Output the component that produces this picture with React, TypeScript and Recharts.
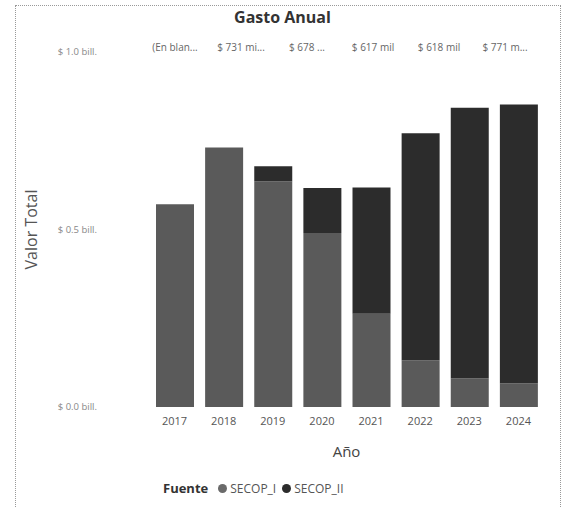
import React from 'react';
import { BarChart, Bar, XAxis, YAxis } from 'recharts';

const years = ['2017', '2018', '2019', '2020', '2021', '2022', '2023', '2024'];
const secopI = [0.571, 0.731, 0.636, 0.49, 0.263, 0.132, 0.081, 0.067];
const secopII = [0, 0, 0.042, 0.127, 0.355, 0.639, 0.762, 0.785];
const yTicks = [0, 0.5, 1.0];
// truncated data labels along the top, as they appear in the report
const topLabels = ['(En blan...', '$ 731 mi...', '$ 678 ...', '$ 617 mil', '$ 618 mil', '$ 771 m...'];

const data = years.map((y, i) => ({ year: y, SECOP_I: secopI[i], SECOP_II: secopII[i] }));

const FONT = '"Open Sans", "Noto Sans", sans-serif';

const fmtTick = (v: number) => `$ ${v.toFixed(1)} bill.`;

export default function App() {
  return (
    <div style={{ position: 'absolute', left: 0, top: 0, width: 565, height: 507, background: '#fff', fontFamily: FONT, overflow: 'hidden' }}>
      {/* dotted frame of the visual */}
      <div style={{ position: 'absolute', left: 15, top: 5, width: 544, height: 520, border: '1px dotted #999' }} />

      <div style={{ position: 'absolute', top: 6, left: 0, width: 565, textAlign: 'center', fontSize: 16, fontWeight: 700, color: '#333' }}>
        Gasto Anual
      </div>

      <div style={{ position: 'absolute', top: 40, left: 142, display: 'flex', fontSize: 10, color: '#666', whiteSpace: 'nowrap' }}>
        {topLabels.map((t, i) => (
          <span key={i} style={{ width: 66, display: 'inline-block', textAlign: 'center' }}>{t}</span>
        ))}
      </div>

      <div style={{ position: 'absolute', left: 0, top: 0 }}>
        <BarChart width={565} height={507} data={data} margin={{ top: 52, right: 22, bottom: 40, left: 0 }} barSize={38}>
          <XAxis
            dataKey="year"
            tickLine={false}
            axisLine={false}
            height={60}
            tickMargin={4}
            tick={{ fill: '#555', fontSize: 11, fontFamily: FONT }}
            label={{ value: 'Año', position: 'insideBottom', offset: 10, fill: '#444', fontSize: 15, fontFamily: FONT }}
          />
          <YAxis
            domain={[0, 1]}
            ticks={yTicks}
            width={150}
            tickLine={false}
            axisLine={false}
            tickMargin={47}
            tickFormatter={fmtTick}
            tick={{ fill: '#888', fontSize: 9.5, fontFamily: FONT }}
            label={{ value: 'Valor Total', angle: -90, position: 'insideLeft', offset: 31, fill: '#555', fontSize: 16, fontFamily: FONT, style: { textAnchor: 'middle' } }}
          />
          <Bar dataKey="SECOP_I" stackId="a" fill="#5a5a5a" isAnimationActive={false} />
          <Bar dataKey="SECOP_II" stackId="a" fill="#2c2c2c" isAnimationActive={false} />
        </BarChart>
      </div>

      <div style={{ position: 'absolute', top: 479, left: 163, display: 'flex', alignItems: 'center', fontSize: 12, color: '#555' }}>
        <span style={{ fontWeight: 700, color: '#333', fontSize: 13, marginRight: 10 }}>Fuente</span>
        <span style={{ width: 9, height: 9, borderRadius: '50%', background: '#6a6a6a', marginRight: 3 }} />
        <span style={{ marginRight: 6 }}>SECOP_I</span>
        <span style={{ width: 9, height: 9, borderRadius: '50%', background: '#2c2c2c', marginRight: 3 }} />
        <span>SECOP_II</span>
      </div>
    </div>
  );
}
